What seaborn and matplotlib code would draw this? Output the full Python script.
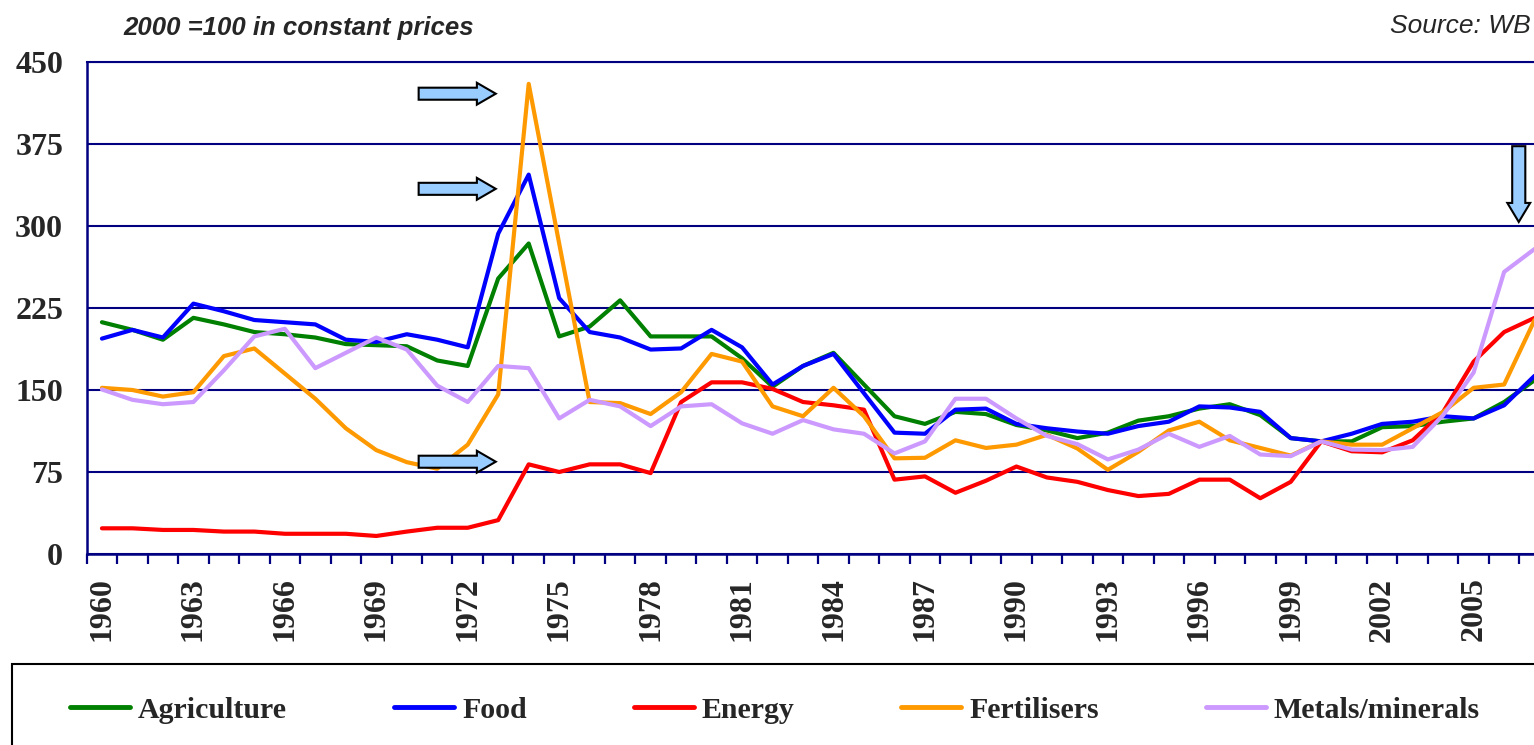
import matplotlib
matplotlib.use("Agg")
import matplotlib.pyplot as plt
from matplotlib.patches import FancyArrow, Rectangle
from matplotlib.ticker import FixedLocator
import numpy as np
import pandas as pd
import seaborn as sns

# ---------------- data ----------------
years = list(range(1960, 2008))
agriculture = [212, 205, 196, 216, 210, 203, 201, 198, 192, 191,
               190, 177, 172, 252, 284, 199, 208, 232, 199, 199,
               199, 179, 153, 172, 184, 155, 126, 119, 130, 128,
               118, 113, 106, 111, 122, 126, 133, 137, 127, 106,
               103, 103, 116, 117, 121, 124, 139, 159]
food = [197, 205, 198, 229, 222, 214, 212, 210, 196, 194,
        201, 196, 189, 293, 347, 234, 203, 198, 187, 188,
        205, 189, 155, 172, 183, 147, 111, 110, 132, 133,
        119, 115, 112, 110, 117, 121, 135, 134, 130, 106,
        103, 110, 119, 121, 126, 124, 136, 163]
energy = [23.5, 23.5, 22, 22, 20.5, 20.5, 18.5, 18.5, 18.5, 16.5,
          20.5, 24, 24, 31, 82, 75, 82, 82, 74, 139,
          157, 157, 151, 139, 136, 132, 68, 71, 56, 67,
          80, 70, 66, 58.5, 53, 55, 68, 68, 51, 66,
          103, 94, 93, 104, 130, 176, 203, 216]
fertilisers = [152, 150, 144, 148, 181, 188, 165, 142, 115, 95,
               84, 78, 100, 146, 430, 284, 139, 138, 128, 148,
               183, 176, 135, 126, 152, 126, 87.5, 88, 104, 97,
               100, 109, 96.5, 77, 93.5, 113, 121, 104, 97, 90,
               103, 100, 100, 115, 130, 152, 155, 214]
metals = [150.5, 141, 137, 139, 168, 199, 206, 170, 184, 198,
          187, 154, 139, 172, 170, 124, 141, 135, 117, 135,
          137, 119.5, 110, 122.5, 114, 110, 92, 103, 142, 142,
          124, 108, 100.5, 86.5, 95.5, 110, 98, 108, 91, 89.5,
          103, 95.5, 95, 98, 127, 166, 258, 279]

series_names = ["Agriculture", "Food", "Energy", "Fertilisers", "Metals/minerals"]
series_values = [agriculture, food, energy, fertilisers, metals]
y_ticks = [0, 75, 150, 225, 300, 375, 450]
x_label_years = list(range(1960, 2006, 3))

colors = {"Agriculture": "#008000", "Food": "#0000FF", "Energy": "#FF0000",
          "Fertilisers": "#FF9900", "Metals/minerals": "#CC99FF"}

df = pd.DataFrame({"Year": years})
for n, v in zip(series_names, series_values):
    df[n] = v
long = df.melt(id_vars="Year", var_name="Series", value_name="Value")

# ---------------- figure ----------------
sns.set_theme(style="white")
plt.rcParams["font.family"] = ["Liberation Serif", "DejaVu Serif"]

W, H = 1534, 745
fig = plt.figure(figsize=(W / 100, H / 100), dpi=100)
ax_left, ax_right, ax_top, ax_bottom = 86.7, 1534, 62, 554
ax = fig.add_axes([ax_left / W, 1 - ax_bottom / H,
                   (ax_right - ax_left) / W, (ax_bottom - ax_top) / H])

sns.lineplot(data=long, x="Year", y="Value", hue="Series",
             hue_order=series_names, palette=colors, linewidth=3,
             legend=False, ax=ax)

navy = "#000080"
ax.set_xlim(1959.5, 2006.98)
ax.set_ylim(0, 450)
ax.set_xlabel("")
ax.set_ylabel("")

ax.yaxis.set_major_locator(FixedLocator(y_ticks))
ax.set_yticklabels([str(t) for t in y_ticks])
ax.tick_params(axis="y", length=0, pad=17, labelsize=23)
ax.grid(axis="y", color=navy, linewidth=1.5)
ax.grid(axis="x", visible=False)

ax.xaxis.set_major_locator(FixedLocator(x_label_years))
ax.set_xticklabels([str(y) for y in x_label_years], rotation=90)
ax.xaxis.set_minor_locator(FixedLocator([y - 0.5 for y in years]))
ax.tick_params(axis="x", which="major", length=0, pad=17, labelsize=23)
ax.tick_params(axis="x", which="minor", length=7.5, width=1.6, color=navy,
               direction="out", bottom=True)
for lab in ax.get_xticklabels() + ax.get_yticklabels():
    lab.set_fontweight("bold")

for side in ["left", "bottom"]:
    ax.spines[side].set_color(navy)
    ax.spines[side].set_linewidth(1.8)
ax.spines["top"].set_color(navy)
ax.spines["top"].set_linewidth(1.5)
ax.spines["right"].set_visible(False)

# ---------------- arrows (annotations) ----------------
arrow_fc = "#99CCFF"
for ycen in [421, 334, 84.4]:
    ax.add_patch(FancyArrow(1970.39, ycen, 2.53, 0, width=11, head_width=20,
                            head_length=0.62, length_includes_head=True,
                            fc=arrow_fc, ec="black", lw=1.5, zorder=5))
ax.add_patch(FancyArrow(2006.48, 373, 0, -69.3, width=0.43, head_width=0.75,
                        head_length=17.4, length_includes_head=True,
                        fc=arrow_fc, ec="black", lw=1.5, zorder=5))

# ---------------- texts ----------------
fig.text(123 / W, 1 - 28 / H, "2000 =100 in constant prices",
         family="Liberation Sans", fontweight="bold", fontstyle="italic",
         fontsize=18.5, ha="left", va="center")
fig.text(1531 / W, 1 - 26 / H, "Source: WB", family="Liberation Sans",
         fontstyle="italic", fontsize=19, ha="right", va="center")

# ---------------- legend ----------------
handles = ax.get_lines()[:len(series_names)]
leg_fs = 21.5
fs_px = leg_fs * 100 / 72
leg = fig.legend(handles, series_names, ncol=5, loc="center left",
                 bbox_to_anchor=(70 / W, 1 - 710 / H), frameon=False,
                 borderaxespad=0, borderpad=0,
                 handlelength=60 / fs_px, handletextpad=8 / fs_px,
                 columnspacing=107 / fs_px,
                 prop={"family": "Liberation Serif", "weight": "bold", "size": leg_fs})
for l in leg.get_lines():
    l.set_linewidth(3.5)

fig.add_artist(Rectangle((12 / W, -0.1), 1.2, (H - 664) / H + 0.1,
                         transform=fig.transFigure, fill=False,
                         ec="black", lw=1.5))

fig.savefig("out.png", dpi=100)
